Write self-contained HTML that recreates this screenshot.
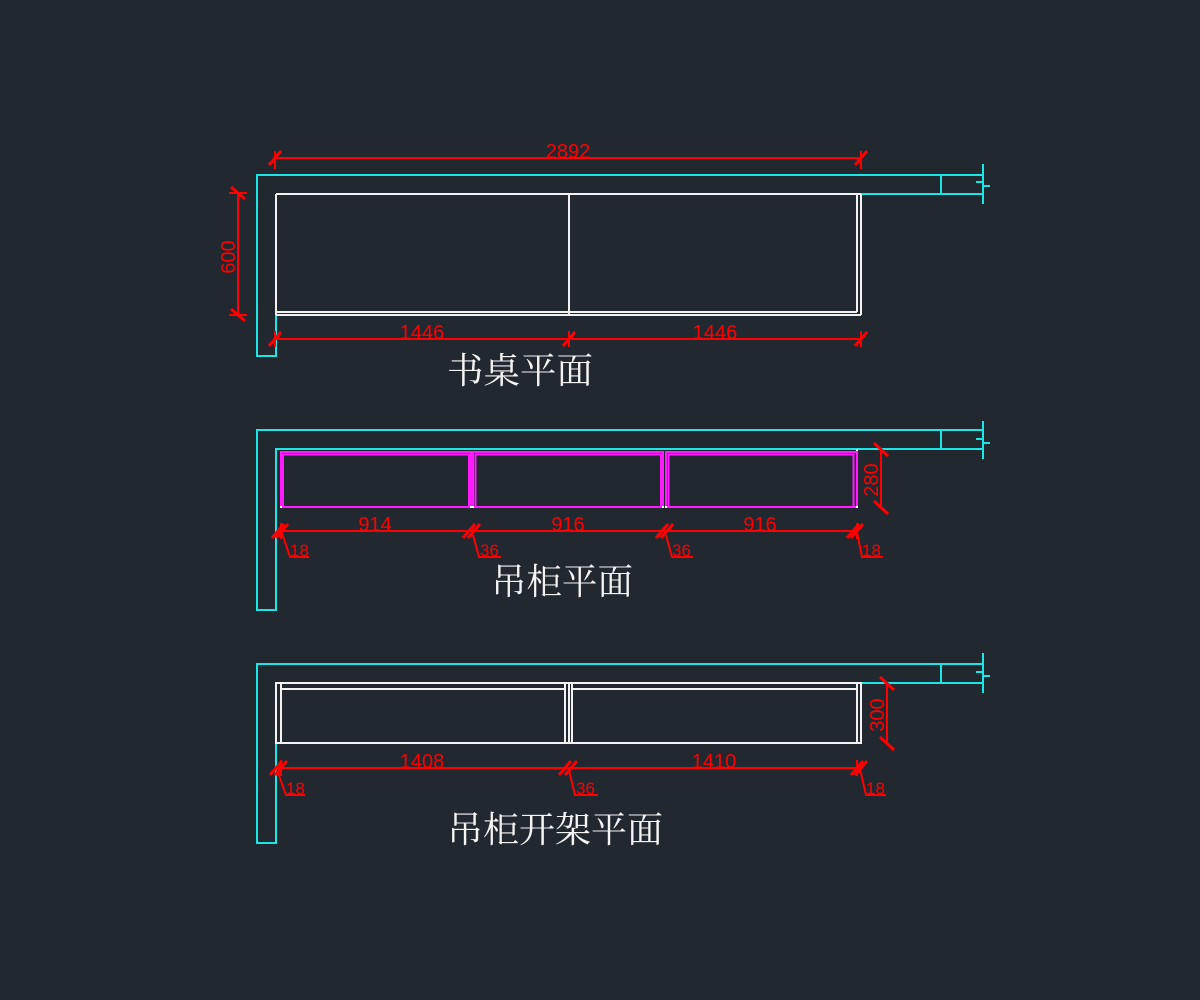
<!DOCTYPE html>
<html><head><meta charset="utf-8"><style>
html,body{margin:0;padding:0;background:#212830;}
svg{display:block;}
.c{stroke:#1de5e5;stroke-width:2;fill:none;}
.w{stroke:#f2f2f2;stroke-width:2;fill:none;}
.m{stroke:#ff1aff;stroke-width:2;fill:none;}
.r{stroke:#ff0000;stroke-width:2;fill:none;}
.t{stroke:#ff0000;stroke-width:3;fill:none;}
.n{fill:#ff0000;font-family:"Liberation Sans",sans-serif;font-size:20px;}
.s{fill:#ff0000;font-family:"Liberation Sans",sans-serif;font-size:17px;}
.h{fill:#f4f4f4;font-family:"Liberation Serif","Noto Serif CJK SC",serif;font-size:36px;}
</style></head><body>
<svg width="1200" height="1000" viewBox="0 0 1200 1000" xmlns="http://www.w3.org/2000/svg">
<rect width="1200" height="1000" fill="#212830"/>

<!-- ============ TOP: 书桌平面 ============ -->
<polyline class="c" points="983,175 257,175 257,356 276,356 276,315"/>
<line class="c" x1="861" y1="194" x2="983" y2="194"/>
<line class="c" x1="941" y1="175" x2="941" y2="194"/>
<line class="c" x1="983" y1="164" x2="983" y2="204"/>
<polyline class="c" points="976,182 983,182 983,186 990,186"/>

<line class="w" x1="276" y1="194" x2="861" y2="194"/>
<line class="w" x1="276" y1="194" x2="276" y2="315"/>
<line class="w" x1="276" y1="312" x2="857" y2="312"/>
<line class="w" x1="276" y1="315" x2="861" y2="315"/>
<line class="w" x1="857" y1="194" x2="857" y2="312"/>
<line class="w" x1="861" y1="194" x2="861" y2="315"/>
<line class="w" x1="569" y1="194" x2="569" y2="315"/>

<!-- 2892 -->
<line class="r" x1="275" y1="158" x2="861" y2="158"/>
<line class="r" x1="275" y1="151" x2="275" y2="169"/>
<line class="r" x1="861" y1="151" x2="861" y2="169"/>
<line class="t" x1="269" y1="165" x2="281" y2="151"/>
<line class="t" x1="855" y1="165" x2="867" y2="151"/>
<text class="n" x="568" y="158" text-anchor="middle">2892</text>

<!-- 600 -->
<line class="r" x1="238" y1="193" x2="238" y2="315"/>
<line class="r" x1="229" y1="193" x2="247" y2="193"/>
<line class="r" x1="229" y1="315" x2="247" y2="315"/>
<line class="t" x1="231" y1="187" x2="245" y2="199"/>
<line class="t" x1="231" y1="309" x2="245" y2="321"/>
<text class="n" x="229" y="257" text-anchor="middle" dominant-baseline="central" transform="rotate(-90 229 257)">600</text>

<!-- 1446 x2 -->
<line class="r" x1="275" y1="339" x2="861" y2="339"/>
<line class="r" x1="275" y1="331" x2="275" y2="347"/>
<line class="r" x1="569" y1="331" x2="569" y2="347"/>
<line class="r" x1="861" y1="331" x2="861" y2="347"/>
<line class="t" x1="269" y1="346" x2="281" y2="332"/>
<line class="t" x1="563" y1="346" x2="575" y2="332"/>
<line class="t" x1="855" y1="346" x2="867" y2="332"/>
<text class="n" x="422" y="339" text-anchor="middle">1446</text>
<text class="n" x="715" y="339" text-anchor="middle">1446</text>

<text class="h" x="520" y="371" text-anchor="middle" dominant-baseline="central" textLength="146" lengthAdjust="spacingAndGlyphs">书桌平面</text>

<!-- ============ MIDDLE: 吊柜平面 ============ -->
<polyline class="c" points="983,430 257,430 257,610 276,610 276,449 983,449"/>
<line class="c" x1="941" y1="430" x2="941" y2="449"/>
<line class="c" x1="983" y1="421" x2="983" y2="459"/>
<polyline class="c" points="976,439 983,439 983,443 990,443"/>

<polyline class="m" points="281,507 281,452 471,452 471,507 281,507"/>
<polyline class="m" points="283,507 283,454.5 469,454.5 469,507"/>
<polyline class="m" points="473,507 473,452 663,452 663,507 473,507"/>
<polyline class="m" points="475.5,507 475.5,454.5 661,454.5 661,507"/>
<polyline class="m" points="666,507 666,452 857,452 857,507 666,507"/>
<polyline class="m" points="668.5,507 668.5,454.5 853.5,454.5 853.5,507"/>
<g fill="#ffffff">
<rect x="280" y="506" width="2" height="2"/><rect x="470" y="506" width="2" height="2"/>
<rect x="472" y="506" width="2" height="2"/><rect x="662" y="506" width="2" height="2"/>
<rect x="665" y="506" width="2" height="2"/><rect x="856" y="506" width="2" height="2"/>
<rect x="856" y="449" width="2" height="2"/>
</g>

<line class="r" x1="277" y1="531" x2="857" y2="531"/>
<line class="r" x1="281" y1="523" x2="281" y2="539"/>
<line class="r" x1="857" y1="523" x2="857" y2="539"/>
<line class="t" x1="272" y1="538" x2="284" y2="524"/>
<line class="t" x1="276" y1="538" x2="288" y2="524"/>
<line class="t" x1="463" y1="538" x2="475" y2="524"/>
<line class="t" x1="468" y1="538" x2="480" y2="524"/>
<line class="t" x1="656" y1="538" x2="668" y2="524"/>
<line class="t" x1="661" y1="538" x2="673" y2="524"/>
<line class="t" x1="847" y1="538" x2="859" y2="524"/>
<line class="t" x1="851" y1="538" x2="863" y2="524"/>
<text class="n" x="375" y="531" text-anchor="middle">914</text>
<text class="n" x="568" y="531" text-anchor="middle">916</text>
<text class="n" x="760" y="531" text-anchor="middle">916</text>

<polyline class="r" points="282,533 290,557 309,557"/>
<text class="s" x="290" y="556">18</text>
<polyline class="r" points="473,535 479,557 501,557"/>
<text class="s" x="480" y="556">36</text>
<polyline class="r" points="666,535 672,557 693,557"/>
<text class="s" x="672" y="556">36</text>
<polyline class="r" points="857,532 862,557 883,557"/>
<text class="s" x="862" y="556">18</text>

<line class="r" x1="881" y1="449" x2="881" y2="507"/>
<line class="t" x1="874" y1="443" x2="888" y2="456"/>
<line class="t" x1="874" y1="501" x2="888" y2="514"/>
<text class="n" x="872" y="480" text-anchor="middle" dominant-baseline="central" transform="rotate(-90 872 480)">280</text>

<text class="h" x="562" y="582" text-anchor="middle" dominant-baseline="central" textLength="142" lengthAdjust="spacingAndGlyphs">吊柜平面</text>

<!-- ============ BOTTOM: 吊柜开架平面 ============ -->
<polyline class="c" points="983,664 257,664 257,843 276,843 276,743"/>
<line class="c" x1="861" y1="683" x2="983" y2="683"/>
<line class="c" x1="941" y1="664" x2="941" y2="683"/>
<line class="c" x1="983" y1="653" x2="983" y2="693"/>
<polyline class="c" points="976,672 983,672 983,676 990,676"/>

<rect class="w" x="276" y="683" width="585" height="60"/>
<line class="w" x1="281" y1="689" x2="565" y2="689"/>
<line class="w" x1="572" y1="689" x2="857" y2="689"/>
<line class="w" x1="281" y1="683" x2="281" y2="743"/>
<line class="w" x1="565" y1="683" x2="565" y2="743"/>
<line class="w" x1="569" y1="683" x2="569" y2="743"/>
<line class="w" x1="572" y1="683" x2="572" y2="743"/>
<line class="w" x1="857" y1="683" x2="857" y2="743"/>

<line class="r" x1="276" y1="768" x2="861" y2="768"/>
<line class="r" x1="281" y1="760" x2="281" y2="776"/>
<line class="r" x1="857" y1="760" x2="857" y2="776"/>
<line class="t" x1="270" y1="775" x2="282" y2="761"/>
<line class="t" x1="275" y1="775" x2="287" y2="761"/>
<line class="t" x1="559" y1="775" x2="571" y2="761"/>
<line class="t" x1="565" y1="775" x2="577" y2="761"/>
<line class="t" x1="851" y1="775" x2="863" y2="761"/>
<line class="t" x1="855" y1="775" x2="867" y2="761"/>
<text class="n" x="422" y="768" text-anchor="middle">1408</text>
<text class="n" x="714" y="768" text-anchor="middle">1410</text>

<polyline class="r" points="277,770 286,795 305,795"/>
<text class="s" x="286" y="794">18</text>
<polyline class="r" points="569,770 575,795 598,795"/>
<text class="s" x="576" y="794">36</text>
<polyline class="r" points="860,769 866,795 886,795"/>
<text class="s" x="866" y="794">18</text>

<line class="r" x1="887" y1="683" x2="887" y2="743"/>
<line class="t" x1="880" y1="677" x2="894" y2="690"/>
<line class="t" x1="880" y1="737" x2="894" y2="750"/>
<text class="n" x="878" y="715" text-anchor="middle" dominant-baseline="central" transform="rotate(-90 878 715)">300</text>

<text class="h" x="555" y="830" text-anchor="middle" dominant-baseline="central" textLength="216" lengthAdjust="spacingAndGlyphs">吊柜开架平面</text>
</svg>
</body></html>
